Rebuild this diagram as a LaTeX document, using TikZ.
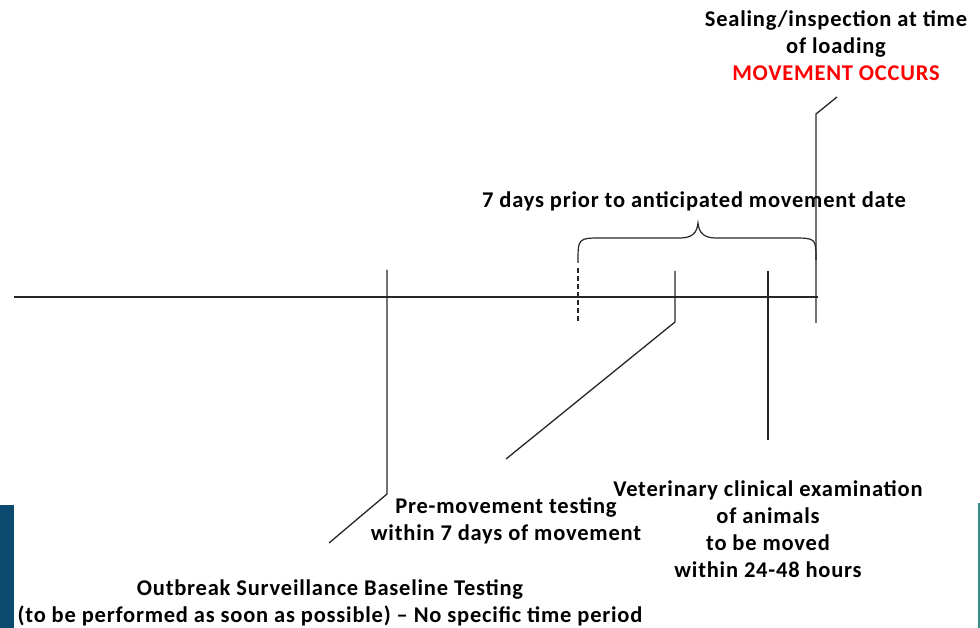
\documentclass[tikz,border=0pt]{standalone}
\usepackage{fontspec}
\setmainfont{Carlito}[LetterSpace=3.5]
\begin{document}
\begin{tikzpicture}[x=1pt,y=-1pt,
  lbl/.style={font=\bfseries\fontsize{22.5}{27}\selectfont, align=center, inner sep=0pt},
  tl/.style={line width=1.3pt, draw=black!85},
  dsh/.style={line width=1.3pt, draw=black!85, dash pattern=on 5pt off 3pt}]
\useasboundingbox (0,0) rectangle (980,628);
\fill[fill={rgb,255:red,11;green,74;blue,110}] (0,505) rectangle (14,628);
\fill[fill={rgb,255:red,58;green,138;blue,138}] (978,503) rectangle (980,628);
% coordinates
\coordinate (L0) at (14,297);
\coordinate (L1) at (818,297);
\coordinate (A1) at (387,270);
\coordinate (A2) at (387,494);
\coordinate (A3) at (329,543);
\coordinate (D1) at (578,268);
\coordinate (D2) at (578,323);
\coordinate (P1) at (675,271);
\coordinate (P2) at (675,322);
\coordinate (P3) at (506,459);
\coordinate (V1) at (768,271);
\coordinate (V2) at (768,440);
\coordinate (R1) at (816,323);
\coordinate (R2) at (816,114);
\coordinate (R3) at (837,97);
% lines
\draw[tl] (L0) -- (L1);
\draw[tl] (A1) -- (A2) -- (A3);
\draw[dsh] (D1) -- (D2);
\draw[tl] (P1) -- (P2) -- (P3);
\draw[tl] (V1) -- (V2);
\draw[tl] (R1) -- (R2) -- (R3);
% brace
\draw[tl, line width=1.2pt] (578,263) .. controls (578,238) .. (602,238) -- (680,238)
  .. controls (692,238) and (697,233) .. (698,223)
  .. controls (699,233) and (704,238) .. (716,238) -- (792,238)
  .. controls (816,238) .. (816,260);
% labels
\node[lbl] (top) at (836,46) {Sealing/inspection at time\\of loading\\\textcolor{red}{MOVEMENT OCCURS}};
\node[lbl] (brc) at (694,201) {7 days prior to anticipated movement date};
\node[lbl] (pre) at (506,521) {Pre-movement testing\\within 7 days of movement};
\node[lbl] (vet) at (768,529) {Veterinary clinical examination\\of animals\\to be moved\\within 24-48 hours};
\node[lbl] (obs) at (330,603) {Outbreak Surveillance Baseline Testing\\(to be performed as soon as possible) -- No specific time period};
\end{tikzpicture}
\end{document}
